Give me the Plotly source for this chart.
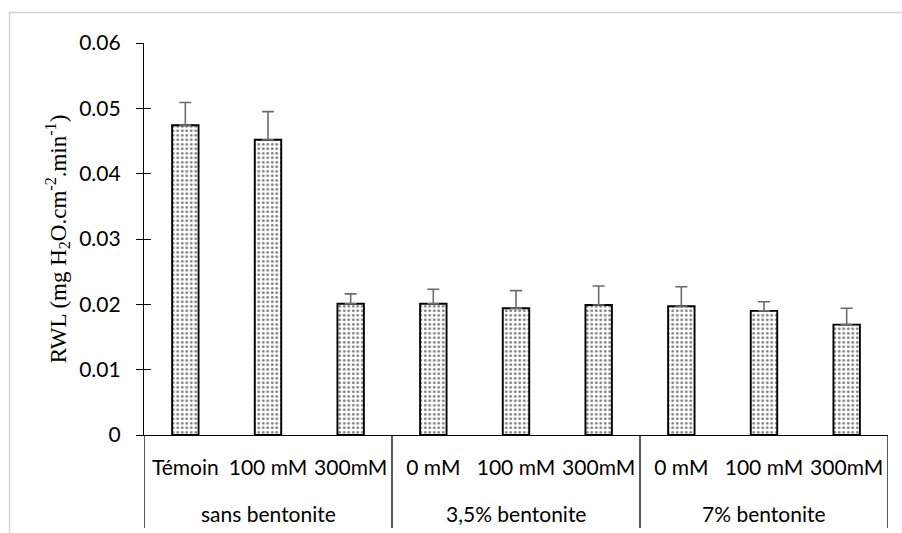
import plotly.graph_objects as go

# Relative water loss per treatment (mean and upper standard deviation)
groups = ["sans bentonite"] * 3 + ["3,5% bentonite"] * 3 + ["7% bentonite"] * 3
treatments = ["Témoin", "100 mM", "300mM", "0 mM", "100 mM", "300mM", "0 mM", "100 mM", "300mM"]
rwl = [0.0474, 0.0452, 0.0201, 0.0201, 0.0194, 0.0199, 0.0197, 0.0190, 0.0169]
rwl_sd = [0.0035, 0.0043, 0.0015, 0.0022, 0.0027, 0.0029, 0.0030, 0.0014, 0.0025]

y_ticks = [0, 0.01, 0.02, 0.03, 0.04, 0.05, 0.06]
y_tick_text = ["0", "0.01", "0.02", "0.03", "0.04", "0.05", "0.06"]

label_font = dict(family="Lato, Carlito, Calibri, sans-serif", size=21, color="black")

positions = list(range(len(treatments)))

# group spans along the category axis
group_names = []
group_spans = []
for i, g in enumerate(groups):
    if not group_names or group_names[-1] != g:
        group_names.append(g)
        group_spans.append([i, i])
    else:
        group_spans[-1][1] = i

fig = go.Figure()
fig.add_trace(go.Bar(
    x=positions,
    y=rwl,
    width=0.32,
    marker=dict(
        color="white",
        line=dict(color="black", width=1.9),
        pattern=dict(shape=".", fgcolor="black", bgcolor="white", size=4.5, solidity=0.32),
    ),
    error_y=dict(type="data", array=rwl_sd, symmetric=False,
                 arrayminus=[0] * len(rwl_sd),
                 color="#6b6b6b", thickness=1.6, width=6),
    showlegend=False,
))

# y axis drawn again on the inside so its ticks cross the axis line
fig.add_trace(go.Scatter(x=positions, y=rwl, yaxis="y2", mode="none",
                         showlegend=False, hoverinfo="skip"))

divider_bottom = -0.237
shapes = [
    # light chart-area frame
    dict(type="rect", xref="paper", yref="paper",
         x0=(9.5 - 144) / 744, x1=(903 - 144) / 744,
         y0=(435 - 540) / 392, y1=(435 - 12.5) / 392,
         line=dict(color="#d0d0d0", width=1.3), fillcolor="rgba(0,0,0,0)", layer="below"),
]
boundaries = [group_spans[0][0] - 0.5] + [s[1] + 0.5 for s in group_spans]
for b in boundaries:
    shapes.append(dict(type="line", xref="x", yref="paper", x0=b, x1=b,
                       y0=0, y1=divider_bottom, line=dict(color="black", width=1.3)))

annotations = [
    dict(text=name, xref="x", yref="paper", x=(s[0] + s[1]) / 2, y=-0.2,
         showarrow=False, yanchor="middle", xanchor="center", font=label_font)
    for name, s in zip(group_names, group_spans)
]

fig.update_layout(
    width=902, height=533,
    margin=dict(l=144, r=14, t=43, b=98),
    paper_bgcolor="white", plot_bgcolor="white",
    font=label_font,
    xaxis=dict(
        range=[-0.5, len(treatments) - 0.5],
        tickvals=positions, ticktext=treatments, tickangle=0,
        showline=True, linecolor="black", linewidth=1.3,
        ticks="", ticklabelstandoff=14, showgrid=False, zeroline=False,
        tickfont=label_font, automargin=False,
    ),
    yaxis=dict(
        range=[0, 0.06], tickvals=y_ticks, ticktext=y_tick_text,
        showline=True, linecolor="black", linewidth=1.3,
        ticks="outside", ticklen=7, tickwidth=1.3, tickcolor="black",
        ticklabelstandoff=11,
        showgrid=False, zeroline=False, automargin=False,
        tickfont=label_font,
        title=dict(
            text="RWL (mg H<sub>2</sub>O.cm<sup>-2</sup>.min<sup>-1</sup>)",
            font=dict(family="Liberation Serif, Times New Roman, serif", size=23, color="black"),
            standoff=6,
        ),
    ),
    yaxis2=dict(
        range=[0, 0.06], tickvals=y_ticks, overlaying="y", side="left",
        ticks="inside", ticklen=7, tickwidth=1.3, tickcolor="black",
        showticklabels=False, showgrid=False, zeroline=False, showline=False,
        automargin=False,
    ),
    shapes=shapes,
    annotations=annotations,
)

fig.write_html("out.html")
